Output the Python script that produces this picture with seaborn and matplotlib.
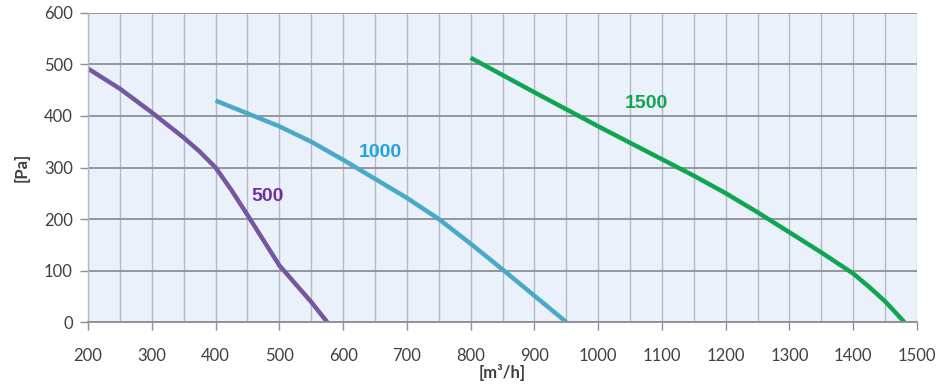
import matplotlib
matplotlib.use("Agg")
import matplotlib.pyplot as plt
import seaborn as sns
import pandas as pd
from matplotlib.ticker import MultipleLocator

# Data
flow_500 = [200, 250, 300, 350, 375, 400, 425, 450, 500, 550, 575]
pres_500 = [492, 453, 407, 358, 331, 300, 256, 208, 110, 39, 0]

flow_1000 = [400, 450, 500, 550, 600, 650, 700, 750, 800, 850, 900, 950]
pres_1000 = [430, 405, 380, 350, 315, 278, 241, 200, 152, 102, 51, 0]

flow_1500 = [800, 900, 1000, 1100, 1150, 1200, 1250, 1300, 1350, 1400, 1425, 1450, 1480]
pres_1500 = [513, 446, 380, 316, 284, 250, 213, 174, 135, 94, 68, 40, 0]

series_names = ["500", "1000", "1500"]
x_ticks = list(range(200, 1501, 100))
y_ticks = list(range(0, 601, 100))

df = pd.concat([
    pd.DataFrame({"flow": flow_500, "pressure": pres_500, "model": "500"}),
    pd.DataFrame({"flow": flow_1000, "pressure": pres_1000, "model": "1000"}),
    pd.DataFrame({"flow": flow_1500, "pressure": pres_1500, "model": "1500"}),
], ignore_index=True)

line_colors = {"500": "#7656a0", "1000": "#4aa9c8", "1500": "#10a550"}
label_colors = {"500": "#7030a0", "1000": "#1fa3dc", "1500": "#10a550"}
label_pos = {"500": (482, 243), "1000": (658, 330), "1500": (1076, 425)}

sns.set_theme(style="white")
plt.rcParams["font.family"] = ["Lato", "DejaVu Sans"]

fig = plt.figure(figsize=(9.37, 3.89), dpi=100)
ax = fig.add_axes([0.0939, 0.1722, 0.8848, 0.7944])
ax.set_facecolor("#eaf1fa")

sns.lineplot(data=df, x="flow", y="pressure", hue="model", palette=line_colors,
             hue_order=series_names, linewidth=3.2, legend=False, ax=ax,
             sort=False, estimator=None, solid_capstyle="butt",
             solid_joinstyle="round")

ax.set_xlim(200, 1500)
ax.set_ylim(0, 600)
ax.set_xticks(x_ticks)
ax.set_yticks(y_ticks)
ax.xaxis.set_minor_locator(MultipleLocator(50))

ax.grid(which="minor", axis="x", color="#b4b9c4", linewidth=1.0)
ax.grid(which="major", axis="x", color="#b4b9c4", linewidth=1.0)
ax.grid(which="major", axis="y", color="#8c8f96", linewidth=1.3)
ax.set_axisbelow(True)

for s in ["top", "right"]:
    ax.spines[s].set_visible(False)
ax.spines["left"].set_color("#b4b9c4")
ax.spines["left"].set_linewidth(1.0)
ax.spines["bottom"].set_color("#8c8f96")
ax.spines["bottom"].set_linewidth(1.3)

ax.tick_params(axis="both", which="major", labelsize=12, labelcolor="#404040",
               color="#8c8f96", length=6, width=1.0, direction="out")
ax.tick_params(axis="x", which="major", pad=13)
ax.tick_params(axis="y", which="major", pad=5, left=True)
ax.tick_params(axis="x", which="major", bottom=True)
ax.tick_params(which="minor", length=0)

ax.set_xlabel("[m³/h]", fontsize=12, fontweight="bold", color="#404040", labelpad=0)
ax.set_ylabel("[Pa]", fontsize=12, fontweight="bold", color="#404040", labelpad=10)

for name in series_names:
    x, y = label_pos[name]
    ax.text(x, y, name, color=label_colors[name], fontsize=14, fontweight="bold",
            ha="center", va="center", family=["Liberation Sans Narrow", "Liberation Sans", "DejaVu Sans"])

fig.savefig("out.png", dpi=100)
